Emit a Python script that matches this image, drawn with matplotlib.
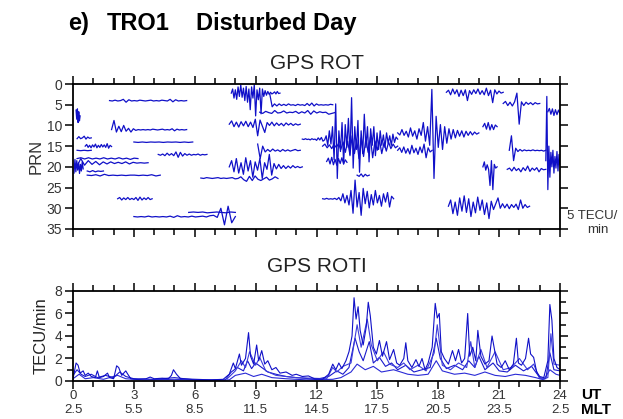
import matplotlib.pyplot as plt
import numpy as np
from matplotlib.ticker import MultipleLocator

plt.rcParams['font.family'] = ['Liberation Sans', 'DejaVu Sans']

BLUE = '#1010c8'
GREY = '#333333'

# ---------------- GPS ROT: one trace per satellite pass ----------------
# baseline PRN, start UT, end UT, ROT samples (TECU/min)
rot_prn = [4, 7.5, 11, 14, 13, 15, 16, 17, 18, 19, 20, 21, 22, 27.7, 32, 31,
           2.2, 5, 6.8, 9.7, 16, 20, 22.7,
           13.3, 15, 18.7, 22, 27.7,
           11.8, 16, 2, 4.7, 10.3, 20, 16, 20.6, 29.5, 6.7, 18.5]
rot_start = [1.8, 0.15, 1.9, 3.0, 0.2, 0.6, 0.2, 4.2, 0.2, 0.2, 0.05, 0.7, 0.7, 2.2, 3.0, 5.7,
             7.8, 9.7, 9.2, 7.7, 9.1, 7.7, 6.3,
             11.3, 12.3, 12.5, 14.0, 12.3,
             16.0, 16.0, 18.4, 21.2, 20.2, 20.2, 21.5, 21.4, 18.5, 23.4, 23.3]
rot_end = [5.6, 0.35, 5.6, 5.9, 0.9, 1.9, 0.9, 6.6, 3.2, 3.7, 0.5, 1.5, 4.3, 3.9, 8.0, 8.0,
           10.2, 12.8, 12.9, 11.2, 11.2, 11.3, 10.1,
           16.0, 16.0, 13.5, 14.6, 15.8,
           20.0, 17.7, 21.2, 23.0, 20.9, 20.9, 23.3, 23.3, 22.5, 24.0, 24.0]
rot_vals = [
    [0, 0.1, -0.1, 0.1, 0, -0.3, 0.4, -0.2, 0.1, 0, 0.1, -0.1, 0, 0.1, 0, -0.1, 0.1, 0, 0.1, -0.1,
     0, 0.1, -0.3, 0.3, -0.2, 0.1, 0, 0.1, 0],
    [-1.2, 1.0, -1.5, 1.8, -0.8, 1.4, 0.2],
    [0, -2.2, 0.6, -0.8, 0.5, -1.0, 0.4, -0.3, 0.6, -0.2, 0.2, 0, 0.1, 0, 0.1, 0, 0.1, -0.1, 0, 0.1,
     0, -0.1, 0.1, 0, 0.1, -0.2, 0.3, -0.1, 0.1, 0, 0.1, 0],
    [0, 0.1, 0, 0.1, 0, 0.05, 0, 0.1, 0, 0.05, 0, 0.1, 0, 0.1, 0],
    [0.2, -0.3, 0.2, 0, -0.4, 0.3, -0.2, 0.1, 0],
    [0, -0.4, 0.3, -0.2, 0.4, -0.3, 0.2, -0.5, 0.4, -0.2, 0.3, -0.4, 0.2, -0.3, 0.3, -0.6, 0.5, -0.2, 0.1],
    [0, 0.1, 0, 0.1, 0],
    [0, 0.2, -0.1, 0.3, -0.3, 0.2, -0.2, 0.3, -0.6, 0.7, -0.5, 0.4, -0.2, 0.2, -0.1, 0.2, 0, 0.1,
     -0.1, 0.2, 0, 0.1, 0],
    [0, -0.2, 0.1, -0.2, 0.1, -0.1, 0.1, -0.2, 0.1, -0.1, 0.1, -0.2, 0.1, -0.1, 0.2, -0.1, 0],
    [0.8, -1.0, 0.6, -0.5, 0.4, -0.3, 0.5, -0.2, 0.3, -0.2, 0.2, -0.1, 0.2, -0.2, 0.3, -0.1, 0.1, 0, 0.1, 0],
    [1.5, -1.8, 1.2, -1.5, 0.8, -1.0, 1.6, -0.6, 1.0, -1.2, 0.5],
    [0, 0.2, -0.1, 0.2, 0, 0.1, 0],
    [0, 0.1, -0.1, 0.2, -0.2, 0.1, 0, 0.1, 0, 0.1, 0, 0, 0.1, 0, 0.1, -0.1, 0.2, 0],
    [0, -0.3, 0.3, -0.2, 0.2, -0.3, 0.2, -0.1, 0.2, -0.3, 0.4, -0.4, 0.3, -0.2, 0.2, -0.3, 0.2, 0],
    [0, 0.1, 0, 0.1, -0.1, 0.1, 0, 0.1, 0, 0.1, -0.1, 0.2, -0.2, 0.1, 0, 0.1, -0.1, 0.1, 0, -0.1,
     0.1, -0.2, -0.3, 0.2, -2.0, 2.0, -2.5, 1.5, 0],
    [0, -0.1, 0, -0.1, 0.1, 0, -0.1, 0, 0.1, -0.1, 0],
    [0, -1.0, 1.2, -0.8, 1.5, -1.5, 0.8, -2.0, 1.0, -1.2, 1.8, -1.6, 2.2, -1.0, 4.0, -1.5, 1.2, -2.0,
     5.5, -0.8, 1.6, -1.2, 5.0, -1.0, 0.8, -0.6, 0.5, -0.4, 0.3, -0.2, 0.2, 0.0, -0.3, 0.2, -0.4, 0.1, 0],
    [-2.5, 0.5, -0.2, 0.3, -0.2, 0.2, -0.1, 0.2, -0.2, 0.1, 0, 0.2, -0.1, 0.1, 0, 0.2, -0.3, 0.2,
     -0.4, 0.3, -0.2, 0.1, 0, 0.1, 0, 0.1, -0.1, 0],
    [0, 0.3, -0.2, 0.1, 0.3, -0.4, 0.2, 0.1, -0.3, 0.2, 0, 0.1, -0.2, 0.3, -0.1, 0.2, -0.4, 0.5,
     -0.3, 0.2, -0.1, 0.1, 0, 0.5, 0.3, 0.1],
    [0, -0.8, 0.6, -0.5, 0.7, -0.6, 0.4, -0.7, 0.6, -0.5, 0.8, -1.2, 2.8, -1.0, 0.5, 2.0, -0.4, 0.3,
     -0.5, 0.4, -0.3, 0.3, -0.2, 0.4, -0.3, 0.2, -0.2, 0.3, -0.1, 0.2, 0],
    [-1.5, 2.0, -1.0, 0.4, -0.2, 0.3, -0.3, 0.2, -0.1, 0.3, -0.2, 0.2, -0.1, 0.2, 0, -0.2, 0.1, 0],
    [0, -1.5, 1.2, -2.0, 1.5, -1.0, 1.8, -2.2, 1.0, -1.5, 2.5, -1.2, 0.8, -2.0, 2.8, -1.0, 0.6, -3.0,
     2.0, -0.8, 0.5, -0.6, 0.4, -0.3, 0.4, -0.2, 0.3, -0.3, 0.2, -0.1, 0.2, 0],
    [0, 0.1, -0.1, 0, 0.1, 0, -0.1, 0.1, 0, 0.1, 0, -0.1, 0.2, 0.1, -0.3, 0.4, 0.8, -0.4, 0.6, -0.5,
     0.3, 0.6, 0.2, -0.2, 0.5, 0.2, -0.3, 0.1],
    [0, 0.1, -0.1, 0.1, 0, 0.2, -0.1, 0.1, 0, 0.3, -0.3, 0.2, -0.4, 0.5, 0.2, -0.8, 1.5, -2.0, 1.2,
     -3.0, 5.0, -8.5, 9.5, -2.0, 3.0, -4.0, 6.0, -3.5, 2.0, -5.0, 4.0, -10.0, 7.0, -3.0, 2.5, -4.5,
     8.0, -2.0, 3.5, -6.0, 2.0, -3.0, 5.5, -2.5, 1.5, -3.0, 4.0, -1.5, 2.5, -2.0, 1.5, -1.0, 2.0,
     -1.5, 1.0, -0.8, 1.5, -1.2, 0.8, -0.5, 0],
    [0, -0.5, 0.4, -0.3, 0.6, -0.4, 0.3, -0.6, 0.8, -1.0, 1.5, -1.2, 2.0, -2.5, 1.8, -1.5, 3.0, -2.0,
     2.5, -1.8, 1.5, -2.2, 2.8, -1.2, 1.0, -1.5, 1.8, -0.8, 1.2, -1.0, 0.6, -0.5, 0.4, 0],
    [0, -0.8, 0.6, -1.0, 0.8, -0.5, 0.9, -0.7, 0.5, -0.9, 0.6, -0.4, 0.2],
    [0, 0.3, -0.3, 0.4, -0.2, 0.2, 0],
    [0, 0.1, -0.1, 0.1, 0, 0.1, -0.1, 0.2, -0.3, 0.5, -1.2, 1.0, -0.8, 1.5, -2.0, 3.5, -4.5, 2.0,
     -1.5, 4.0, -2.5, 1.2, -1.8, 2.2, -1.0, 1.5, -2.0, 1.0, -0.8, 1.8, -1.2, 0.8, -1.5, 2.0, -0.6, 0],
    [0, 0.5, -0.8, 0.6, -0.4, 1.0, -1.2, 0.8, -0.5, 1.5, -1.0, 0.6, -2.5, 2.0, -1.5, 3.0, -10.5,
     11.0, -4.0, 3.5, -2.0, 4.0, -1.5, 2.5, -1.0, 1.5, -0.8, 1.2, -0.6, 0.8, -0.5, 1.0, -0.4, 0.6,
     -0.3, 0.5, -0.2, 0.3, 0],
    [0, -0.6, 0.5, -0.8, 0.7, -0.4, 0.9, -1.2, 0.6, -0.5, 1.0, -0.8, 0.6, -1.5, 1.8, -0.6, 0.4, 0],
    [0, -0.5, 0.6, -0.8, 0.4, -0.6, 1.0, -0.5, 0.8, -0.6, 2.0, -0.4, 0.5, -0.6, 0.3, -0.8, 0.5,
     -0.4, 0.6, -1.0, 0.8, -0.5, 2.5, -0.6, 0.4, -0.3, 0.2, 0],
    [0, -0.5, 0.5, -0.3, 0.6, -0.4, -2.5, 5.0, -0.4, 0.5, -0.3, 0.2, -0.2, 0.3, -0.2, 0.1, 0],
    [0, -0.8, 0.6, -1.0, 0.8, -0.5, 0.7, -0.4, 0],
    [0, -1.2, 0.8, -0.5, 0.6, 4.5, -1.5, 5.5, -0.6, 0.3, 0],
    [0, -3.5, 2.5, -0.5, 0.3, -0.2, 0.2, -0.1, 0.1, 0, 0.1, -0.1, 0.1, 0, 0.1, 0, 0.2, 0],
    [0, -0.3, 0.4, -0.5, 0.3, -0.2, 0.6, -0.4, 0.3, -0.8, 0.5, -0.3, 0.2, -0.4, 0.6, -0.2, 0.1, 0],
    [0, -1.5, 1.8, -1.0, 2.2, -2.0, 1.2, -2.5, 1.5, -1.8, 2.5, -1.0, 1.6, -2.2, 1.0, -1.5, 2.0, -0.8,
     3.0, -1.2, 0.8, -0.6, -2.0, 0.5, -0.6, 0.4, -0.5, 0.6, -0.4, 0.3, -0.5, 0.8, -1.5, 0.5, -0.4, 0.3, 0],
    [0, -0.8, 0.6, -0.7, 0.9, -0.5, 0.7, -0.4, 0.5],
    [0, -15.5, 7.0, -3.5, 4.0, -2.0, 1.5, -2.5, 3.0, -1.0, 1.8, -2.2, 2.5, -1.5, 1.0],
]

# ---------------- GPS ROTI: (UT hour, TECU/min) ----------------
roti_a = [(0.0, 0.2), (0.15, 1.6), (0.25, 1.4), (0.35, 0.7), (0.5, 0.9), (0.6, 0.5), (0.75, 0.7),
          (0.9, 0.4), (1.1, 0.3), (1.2, 0.9), (1.3, 0.3), (1.5, 0.4), (1.7, 0.7), (1.8, 0.3),
          (2.0, 0.2), (2.15, 1.35), (2.25, 1.2), (2.4, 0.5), (2.6, 0.9), (2.7, 0.6), (2.85, 0.2),
          (3.2, 0.15), (3.6, 0.2), (3.8, 0.35), (4.0, 0.2), (4.4, 0.25), (4.7, 0.2), (4.85, 0.5),
          (4.95, 1.0), (5.1, 0.6), (5.3, 0.2), (6.0, 0.15), (6.8, 0.1), (7.4, 0.15), (7.7, 0.6),
          (7.9, 1.6), (8.0, 1.1), (8.2, 2.4), (8.3, 1.4), (8.5, 2.0), (8.65, 4.3), (8.75, 2.2),
          (8.9, 1.5), (9.05, 3.2), (9.15, 1.8), (9.3, 2.7), (9.45, 1.5), (9.6, 1.8), (9.8, 1.0),
          (10.0, 1.2), (10.2, 0.7), (10.5, 0.8), (10.8, 0.5), (11.0, 0.6), (11.3, 0.4), (11.6, 0.45),
          (11.9, 0.2), (12.3, 0.15), (12.6, 0.6), (12.8, 1.5), (12.95, 1.0), (13.1, 1.6), (13.25, 1.1),
          (13.45, 1.8), (13.6, 2.6), (13.75, 4.0), (13.85, 7.4), (13.95, 5.5), (14.05, 6.6),
          (14.15, 4.5), (14.3, 3.2), (14.45, 4.8), (14.55, 7.0), (14.65, 5.8), (14.8, 3.0),
          (14.95, 2.4), (15.1, 3.6), (15.25, 2.2), (15.45, 3.5), (15.6, 1.9), (15.8, 2.8),
          (15.95, 1.6), (16.1, 1.4), (16.3, 2.0), (16.4, 3.4), (16.5, 1.8), (16.7, 1.2), (16.9, 1.9),
          (17.05, 1.3), (17.2, 2.0), (17.35, 1.0), (17.5, 1.6), (17.7, 3.0), (17.85, 6.9),
          (17.95, 5.6), (18.05, 6.0), (18.15, 2.6), (18.3, 2.0), (18.5, 1.5), (18.7, 2.7),
          (18.85, 1.8), (19.0, 2.8), (19.15, 1.6), (19.3, 2.0), (19.45, 6.0), (19.55, 2.2),
          (19.7, 3.0), (19.85, 1.8), (19.95, 4.5), (20.1, 2.2), (20.3, 1.5), (20.5, 1.8),
          (20.65, 4.0), (20.75, 3.0), (20.9, 1.5), (21.1, 1.2), (21.3, 1.8), (21.5, 1.0), (21.7, 1.5),
          (21.85, 3.8), (21.95, 1.6), (22.1, 1.4), (22.3, 2.0), (22.45, 3.8), (22.55, 2.4),
          (22.7, 2.1), (22.85, 0.8), (23.0, 0.4), (23.2, 0.3), (23.4, 1.8), (23.5, 6.8), (23.6, 5.4),
          (23.7, 2.0), (23.85, 1.2), (24.0, 1.0)]
roti_b = [(0, 0.5), (0.2, 1.0), (0.4, 0.6), (0.6, 0.4), (0.9, 0.6), (1.2, 0.3), (1.6, 0.5), (2.0, 0.3),
          (2.3, 0.8), (2.6, 0.4), (3.0, 0.2), (4.0, 0.15), (5.0, 0.3), (6.0, 0.1), (7.5, 0.1), (7.8, 0.8),
          (8.1, 1.2), (8.4, 0.9), (8.6, 1.8), (8.8, 1.1), (9.0, 1.6), (9.3, 1.2), (9.6, 0.8), (10.0, 0.6),
          (10.5, 0.4), (11.0, 0.3), (12.0, 0.15), (12.6, 0.4), (13.0, 0.9), (13.3, 0.6), (13.6, 1.2),
          (13.9, 3.8), (14.1, 2.6), (14.3, 1.8), (14.6, 3.5), (14.8, 1.6), (15.1, 2.1), (15.4, 1.3),
          (15.7, 1.6), (16.0, 1.0), (16.4, 1.4), (16.8, 0.8), (17.2, 1.0), (17.6, 1.2), (17.9, 3.8),
          (18.1, 2.0), (18.4, 1.1), (18.8, 1.4), (19.2, 1.0), (19.5, 1.8), (19.8, 1.2), (20.0, 2.2),
          (20.3, 1.0), (20.7, 1.6), (21.0, 0.9), (21.4, 0.8), (21.8, 1.4), (22.2, 0.9), (22.6, 1.3),
          (23.0, 0.3), (23.3, 0.2), (23.5, 2.5), (23.7, 1.0), (24.0, 0.9)]
roti_c = [(0, 0.2), (0.3, 0.6), (0.6, 0.2), (1.0, 0.3), (1.5, 0.15), (2.2, 0.5), (2.6, 0.2), (3.5, 0.1),
          (5.0, 0.15), (6.5, 0.05), (7.7, 0.1), (8.0, 0.5), (8.5, 0.7), (8.9, 0.4), (9.3, 0.6), (9.8, 0.3),
          (10.5, 0.2), (11.5, 0.1), (12.8, 0.15), (13.2, 0.3), (13.7, 0.8), (14.0, 1.5), (14.4, 1.0),
          (14.8, 1.3), (15.2, 0.8), (15.8, 1.0), (16.5, 0.6), (17.0, 0.5), (17.5, 0.6), (17.9, 1.8),
          (18.2, 0.9), (18.8, 0.6), (19.3, 0.7), (19.8, 0.5), (20.3, 0.8), (20.8, 0.5), (21.3, 0.4),
          (21.8, 0.6), (22.3, 0.5), (22.8, 0.3), (23.2, 0.1), (23.5, 1.0), (23.8, 0.6), (24.0, 0.5)]
roti_d = [(7.6, 0.2), (8.0, 0.9), (8.3, 1.8), (8.5, 1.2), (8.7, 2.6), (9.0, 1.4), (9.2, 2.1), (9.5, 0.9),
          (10.0, 0.5), (11.0, 0.3), (12.5, 0.2), (12.8, 1.2), (13.0, 0.8), (13.3, 1.3), (13.7, 1.6),
          (14.0, 5.0), (14.2, 3.0), (14.5, 5.5), (14.7, 3.2), (15.0, 1.8), (15.3, 2.6), (15.6, 1.5),
          (16.0, 1.2), (16.3, 1.6), (16.6, 1.0), (17.0, 1.4), (17.4, 0.9), (17.8, 2.5), (17.95, 5.0),
          (18.2, 1.4), (18.6, 1.0), (19.0, 1.6), (19.4, 1.2), (19.6, 3.5), (19.8, 1.2), (20.1, 2.8),
          (20.4, 1.2), (20.8, 2.6), (21.2, 1.0), (21.6, 1.2), (22.0, 2.0), (22.4, 1.0), (22.7, 1.5),
          (23.0, 0.2), (23.4, 0.3), (23.55, 4.2), (23.7, 1.5), (24.0, 1.4)]

ut_ticks = [0, 3, 6, 9, 12, 15, 18, 21, 24]
mlt_labels = ['2.5', '5.5', '8.5', '11.5', '14.5', '17.5', '20.5', '23.5', '2.5']

fig = plt.figure(figsize=(6.23, 4.19), dpi=100)
ax1 = fig.add_axes([0.1172, 0.4535, 0.7817, 0.346])
ax2 = fig.add_axes([0.1172, 0.0907, 0.7817, 0.2148])

for prn, t0, t1, vals in zip(rot_prn, rot_start, rot_end, rot_vals):
    t = np.linspace(t0, t1, len(vals))
    ax1.plot(t, prn + np.array(vals), color=BLUE, lw=0.9)

for series, c in [(roti_c, '#2a2ad6'), (roti_b, '#1a1acc'), (roti_d, '#3c3cdc'), (roti_a, BLUE)]:
    t, v = zip(*series)
    ax2.plot(t, v, color=c, lw=0.8)

for ax in (ax1, ax2):
    ax.set_xlim(0, 24)
    ax.xaxis.set_major_locator(MultipleLocator(3))
    ax.xaxis.set_minor_locator(MultipleLocator(1))
    ax.tick_params(which='both', direction='out', top=True, right=True, width=1.1,
                   colors='black', labelcolor=GREY, labelsize=10, pad=2)
    ax.tick_params(which='major', length=6)
    ax.tick_params(which='minor', length=4)
    for s in ax.spines.values():
        s.set_linewidth(1.3)

ax1.set_ylim(35, 0)
ax1.yaxis.set_major_locator(MultipleLocator(5))
ax1.tick_params(labelbottom=False)
ax1.set_ylabel('PRN', fontsize=12, color=GREY, labelpad=2)
ax1.set_title('GPS ROT', fontsize=15, color='#222222', pad=11)

ax2.set_ylim(0, 8)
ax2.yaxis.set_major_locator(MultipleLocator(2))
ax2.yaxis.set_minor_locator(MultipleLocator(1))
ax2.set_xticks(ut_ticks)
ax2.set_xticklabels([f'{u}\n{m}' for u, m in zip(ut_ticks, mlt_labels)], linespacing=1.2)
ax2.tick_params(axis='x', which='major', labelsize=9.5, pad=0.5)
ax2.set_ylabel('TECU/min', fontsize=12, color='#222222', labelpad=4)
ax2.set_title('GPS ROTI', fontsize=15, color='#222222', pad=14)

fig.text(0.109, 0.943, 'e)', fontsize=17, fontweight='bold', va='center')
fig.text(0.172, 0.943, 'TRO1', fontsize=17, fontweight='bold', va='center')
fig.text(0.315, 0.943, 'Disturbed Day', fontsize=17, fontweight='bold', va='center')

fig.text(0.933, 0.058, 'UT', fontsize=11, fontweight='bold', va='center')
fig.text(0.933, 0.021, 'MLT', fontsize=11, fontweight='bold', va='center')
fig.text(0.910, 0.484, '5 TECU/', fontsize=9.5, color=GREY, va='center')
fig.text(0.960, 0.452, 'min', fontsize=9.5, color=GREY, va='center', ha='center')

fig.savefig('out.png', dpi=100)
